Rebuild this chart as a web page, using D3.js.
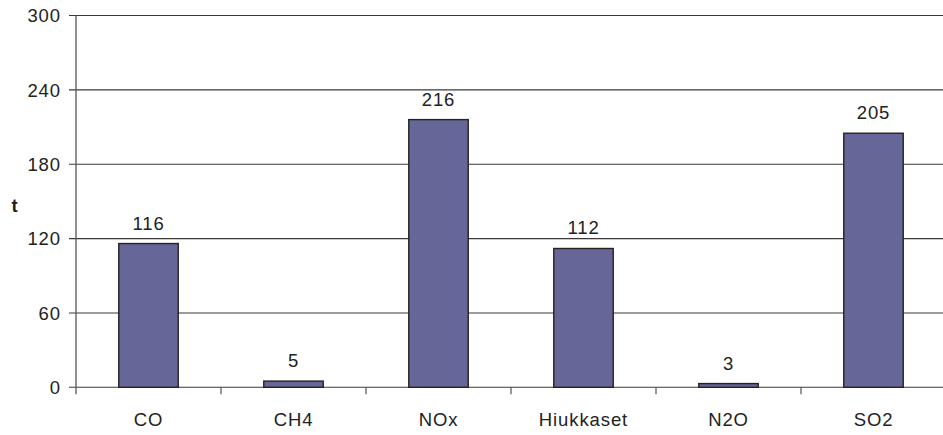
<!DOCTYPE html>
<html>
<head>
<meta charset="utf-8">
<script src="https://cdn.jsdelivr.net/npm/d3@7"></script>
<style>
  html, body { margin: 0; padding: 0; background: #fff; }
  svg { display: block; font-family: "Liberation Sans", Arial, sans-serif; }
  text { letter-spacing: 0.9px; }
</style>
</head>
<body>
<svg id="chart" width="943" height="435"></svg>
<script>
// Emissions by pollutant, tonnes
const categories = ["CO", "CH4", "NOx", "Hiukkaset", "N2O", "SO2"];
const values = [116, 5, 216, 112, 3, 205];
const yTicks = [0, 60, 120, 180, 240, 300];
const yTitle = "t";

const width = 943, height = 435;
const margin = { top: 15.5, right: -3, bottom: 47.7, left: 76 };
const fontSize = 18.5;

const svg = d3.select("#chart");

const x = d3.scaleBand()
  .domain(categories)
  .range([margin.left, width - margin.right])
  .paddingInner(0)
  .paddingOuter(0);

const y = d3.scaleLinear()
  .domain([0, 300])
  .range([height - margin.bottom, margin.top]);

// horizontal gridlines
svg.append("g")
  .selectAll("line")
  .data(yTicks)
  .join("line")
  .attr("x1", margin.left - 7)
  .attr("x2", width)
  .attr("y1", d => y(d))
  .attr("y2", d => y(d))
  .attr("stroke", "#3a3a3a")
  .attr("stroke-width", 1.1);

// y tick labels
svg.append("g")
  .selectAll("text")
  .data(yTicks)
  .join("text")
  .attr("x", margin.left - 15)
  .attr("y", d => y(d))
  .attr("dy", "0.36em")
  .attr("text-anchor", "end")
  .attr("font-size", fontSize)
  .attr("fill", "#222")
  .text(d => d);

// y title
svg.append("text")
  .attr("x", 15)
  .attr("y", 212)
  .attr("text-anchor", "middle")
  .attr("font-size", fontSize)
  .attr("font-weight", "bold")
  .attr("fill", "#222")
  .text(yTitle);

// bars
const barW = x.bandwidth() * 0.41;
svg.append("g")
  .selectAll("rect")
  .data(categories)
  .join("rect")
  .attr("x", d => x(d) + (x.bandwidth() - barW) / 2)
  .attr("y", (d, i) => y(values[i]))
  .attr("width", barW)
  .attr("height", (d, i) => y(0) - y(values[i]))
  .attr("fill", "#666699")
  .attr("stroke", "#222")
  .attr("stroke-width", 1.4);

// value labels
svg.append("g")
  .selectAll("text")
  .data(categories)
  .join("text")
  .attr("x", d => x(d) + x.bandwidth() / 2)
  .attr("y", (d, i) => y(values[i]) - 14)
  .attr("text-anchor", "middle")
  .attr("font-size", fontSize)
  .attr("fill", "#222")
  .text((d, i) => values[i]);

// y axis line
svg.append("line")
  .attr("x1", margin.left).attr("x2", margin.left)
  .attr("y1", y(300)).attr("y2", y(0) + 7)
  .attr("stroke", "#555")
  .attr("stroke-width", 1.3);

// x axis ticks at category boundaries
svg.append("g")
  .selectAll("line")
  .data(categories.slice(1))
  .join("line")
  .attr("x1", d => x(d)).attr("x2", d => x(d))
  .attr("y1", y(0)).attr("y2", y(0) + 7)
  .attr("stroke", "#444")
  .attr("stroke-width", 1.1);

// category labels
svg.append("g")
  .selectAll("text")
  .data(categories)
  .join("text")
  .attr("x", d => x(d) + x.bandwidth() / 2)
  .attr("y", 425.5)
  .attr("text-anchor", "middle")
  .attr("font-size", fontSize)
  .attr("fill", "#222")
  .text(d => d);
</script>
</body>
</html>
